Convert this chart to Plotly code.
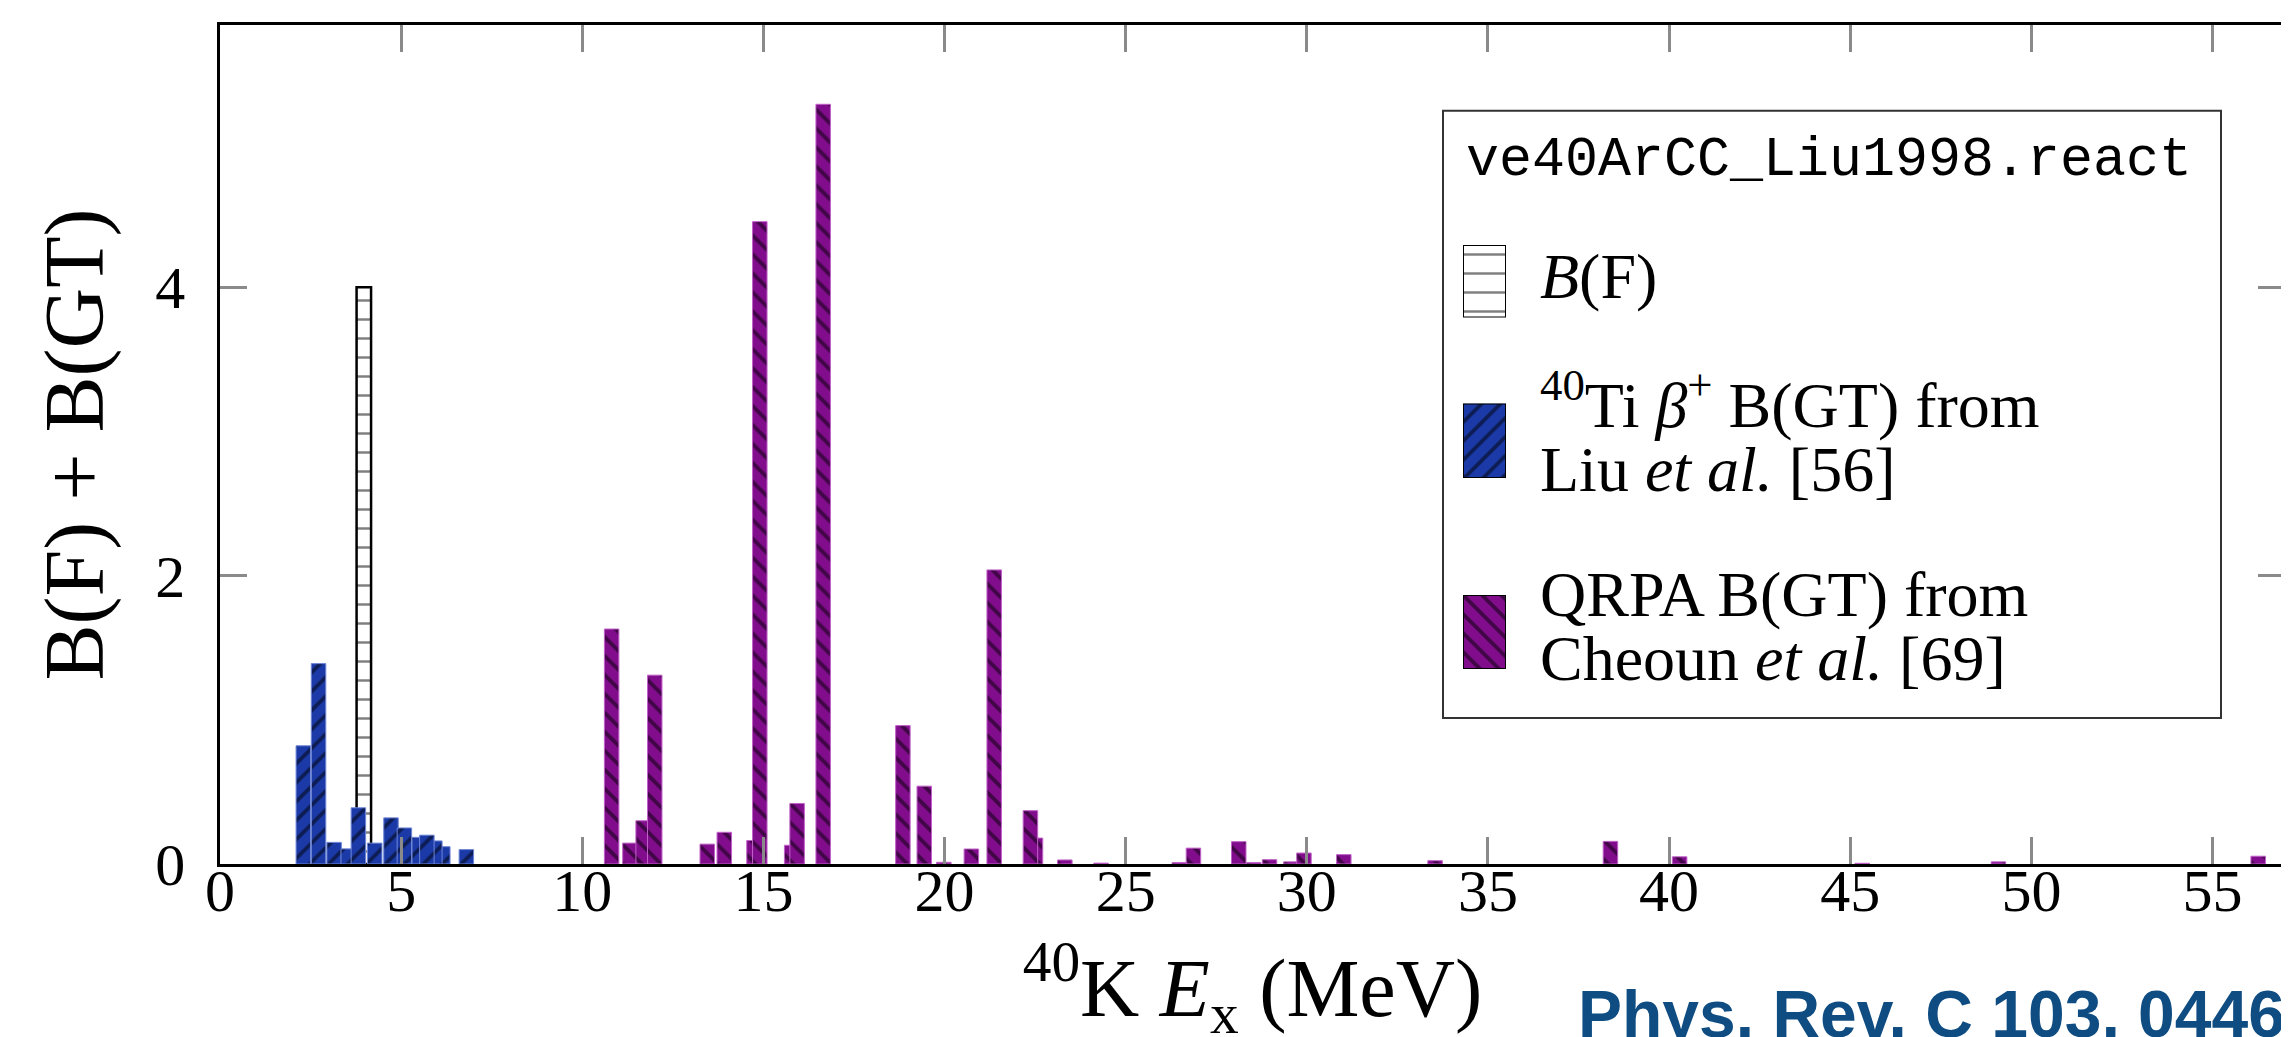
import plotly.graph_objects as go

# ---------------- data ----------------
bf_energy = [3.97]
bf_value = [4.0]

liu_energy = [2.30, 2.72, 3.15, 3.54, 3.82, 4.27, 4.72, 5.09, 5.50, 6.15, 5.93, 5.71, 6.80]
liu_bgt = [0.82, 1.39, 0.15, 0.105, 0.39, 0.145, 0.32, 0.25, 0.185, 0.12, 0.16, 0.20, 0.10]

qrpa_energy = [10.81, 11.315, 11.68, 12.00, 13.45, 13.92, 14.74, 14.90, 15.78, 15.93,
               16.65, 18.85, 19.44, 19.98, 20.74, 21.37, 22.51, 22.37, 23.32, 24.32,
               26.48, 26.87, 28.12, 28.53, 28.97, 29.56, 29.92, 31.02, 33.54, 38.38,
               40.29, 45.33, 49.09, 56.26]
qrpa_bgt = [1.63, 0.145, 0.30, 1.31, 0.138, 0.22, 0.163, 4.456, 0.13, 0.42,
            5.27, 0.96, 0.54, 0.012, 0.104, 2.04, 0.18, 0.37, 0.028, 0.006,
            0.01, 0.11, 0.155, 0.01, 0.03, 0.015, 0.076, 0.065, 0.023, 0.157,
            0.05, 0.005, 0.015, 0.054]

x_ticks = [0, 5, 10, 15, 20, 25, 30, 35, 40, 45, 50, 55]
y_ticks = [0, 2, 4]

legend_title = "ve40ArCC_Liu1998.react"
label_bf = "<i>B</i>(F)"
label_liu = ["<sup>40</sup>Ti <i>β</i><sup>+</sup> B(GT) from", "Liu <i>et al.</i> [56]"]
label_qrpa = ["QRPA B(GT) from", "Cheoun <i>et al.</i> [69]"]
citation = "<b>Phys. Rev. C 103, 044604 (2021)</b>"

# ---------------- layout geometry ----------------
W, H = 2289, 1037
ML, MR, MT, MB = 212, 12, 17, 181
PW = W - ML - MR
PH = H - MT - MB


def px(xp):
    return (xp - ML) / PW


def py(yp):
    return (H - MB - yp) / PH


SERIF = "Liberation Serif, DejaVu Serif, serif"
MONO = "Liberation Mono, DejaVu Sans Mono, monospace"
SANS = "Liberation Sans, Arial, sans-serif"

BLUE = "#1b3aa8"
PURPLE = "#810d8c"
BW = 0.4
PAT = 13.4

bf_marker = dict(color="white", line=dict(color="black", width=2.5),
                 pattern=dict(shape="-", fgcolor="black", bgcolor="white",
                              size=19, solidity=0.13, fillmode="overlay"))
liu_marker = dict(color=BLUE, line=dict(color="#6f86d6", width=1),
                  pattern=dict(shape="/", fgcolor="black", bgcolor=BLUE,
                               size=PAT, solidity=0.28, fillmode="overlay"))
qrpa_marker = dict(color=PURPLE, line=dict(color="#c062c8", width=1),
                   pattern=dict(shape="\\", fgcolor="black", bgcolor=PURPLE,
                                size=PAT, solidity=0.28, fillmode="overlay"))

fig = go.Figure()
fig.add_bar(x=bf_energy, y=bf_value, width=BW, marker=bf_marker, showlegend=False, name="B(F)")
fig.add_bar(x=liu_energy, y=liu_bgt, width=BW, marker=liu_marker, showlegend=False, name="Liu")
fig.add_bar(x=qrpa_energy, y=qrpa_bgt, width=BW, marker=qrpa_marker, showlegend=False, name="QRPA")

# legend swatches (drawn as bars on small auxiliary axes)
sw_marker_bf = dict(bf_marker, line=dict(color="black", width=2))
sw_marker_liu = dict(liu_marker, line=dict(color="black", width=2))
sw_marker_qrpa = dict(qrpa_marker, line=dict(color="black", width=2))
fig.add_bar(x=[0], y=[1], width=1, marker=sw_marker_bf, xaxis="x2", yaxis="y2", showlegend=False, hoverinfo="skip")
fig.add_bar(x=[0], y=[1], width=1, marker=sw_marker_liu, xaxis="x2", yaxis="y3", showlegend=False, hoverinfo="skip")
fig.add_bar(x=[0], y=[1], width=1, marker=sw_marker_qrpa, xaxis="x2", yaxis="y4", showlegend=False, hoverinfo="skip")

axis_common = dict(
    showline=True, linecolor="black", linewidth=2.5, mirror="allticks",
    ticks="inside", ticklen=27, tickwidth=3, tickcolor="#8a8a8a",
    showgrid=False, zeroline=False,
    tickfont=dict(family=SERIF, size=60, color="black"),
)

fig.update_layout(
    width=W, height=H,
    margin=dict(l=ML, r=MR, t=MT, b=MB, autoexpand=False),
    paper_bgcolor="white", plot_bgcolor="white",
    barmode="overlay",
    showlegend=False,
    xaxis=dict(axis_common, range=[0, 57], tickvals=x_ticks, ticklabelstandoff=-28,
               title=dict(text="<sup>40</sup>K <i>E</i><sub>x</sub> (MeV)",
                          font=dict(family=SERIF, size=82, color="black"), standoff=50)),
    yaxis=dict(axis_common, range=[0, 5.82], tickvals=y_ticks, ticklabelstandoff=20,
               title=dict(text="B(F) + B(GT)",
                          font=dict(family=SERIF, size=84, color="black"), standoff=24)),
    xaxis2=dict(domain=[px(1455), px(1498)], range=[-0.5, 0.5], visible=False, anchor="y2", fixedrange=True),
    yaxis2=dict(domain=[py(309.5), py(237)], range=[0, 1], visible=False, anchor="x2", fixedrange=True),
    yaxis3=dict(domain=[py(470), py(395.4)], range=[0, 1], visible=False, anchor="x2", fixedrange=True),
    yaxis4=dict(domain=[py(661), py(587)], range=[0, 1], visible=False, anchor="x2", fixedrange=True),
)

# legend box
fig.add_shape(type="rect", xref="paper", yref="paper",
              x0=px(1435), x1=px(2213), y0=py(710), y1=py(102.7),
              line=dict(color="#333333", width=2), fillcolor="rgba(0,0,0,0)", layer="above")

LFS = 64


def ann(text, xp, bottom_px, font):
    fig.add_annotation(text=text, xref="paper", yref="paper", x=px(xp), y=py(bottom_px),
                       xanchor="left", yanchor="bottom", showarrow=False, font=font, borderpad=0)


ann(legend_title, 1457, 169 + 0.30 * 55, dict(family=MONO, size=55, color="black"))
lfont = dict(family=SERIF, size=LFS, color="black")
ann(label_bf, 1531, 291.6 + 0.216 * LFS, lfont)
ann(label_liu[0], 1531, 420 + 0.216 * LFS, lfont)
ann(label_liu[1], 1531, 484.6 + 0.216 * LFS, lfont)
ann(label_qrpa[0], 1531, 609 + 0.216 * LFS, lfont)
ann(label_qrpa[1], 1531, 673.4 + 0.216 * LFS, lfont)

ann(citation, 1569, 1030 + 0.212 * 66, dict(family=SANS, size=66, color="#0e4c82"))

fig.write_html("out.html")
